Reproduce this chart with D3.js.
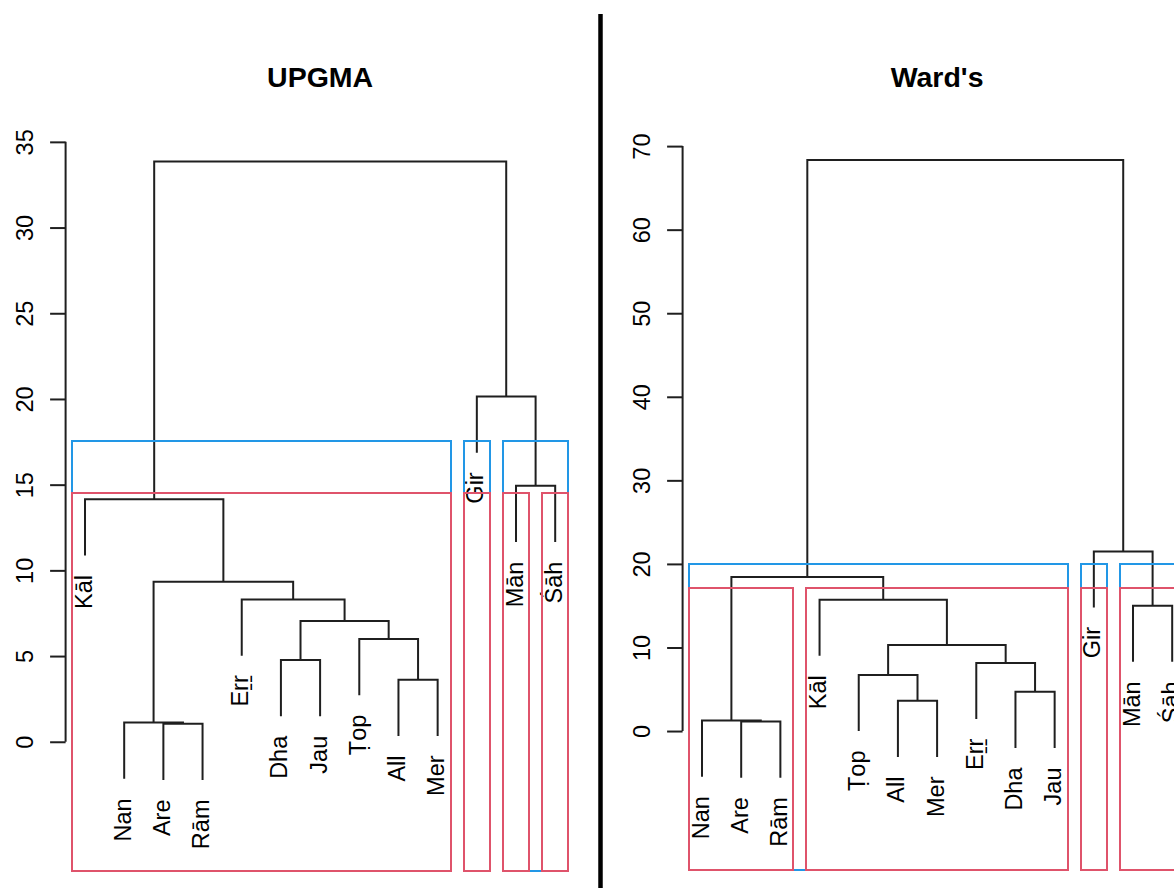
<!DOCTYPE html>
<html>
<head>
<meta charset="utf-8">
<script src="https://cdn.jsdelivr.net/npm/d3@7"></script>
<style>
  body { margin: 0; background: #fff; }
  text { font-family: "Liberation Sans", Arial, sans-serif; }
</style>
</head>
<body>
<svg id="chart" width="1174" height="888"></svg>
<script>
// merges in R order: a name is a leaf, a number points to an earlier merge (1-based)
const upgmaLeft    = ["Are", "Nan", "All", "Dha", "Ṭop", 4, "Eṟṟ", 2, "Kāl", "Mān", "Gir", 9];
const upgmaRight   = ["Rām", 1, "Mer", "Jau", 3, 5, 6, 7, 8, "Śāh", 10, 11];
const upgmaHeights = [1.05, 1.12, 3.62, 4.77, 6.0, 7.05, 8.3, 9.34, 14.15, 14.93, 20.14, 33.86];

const wardLeft    = ["Are", "Nan", "All", "Dha", "Ṭop", "Eṟṟ", 5, "Mān", "Kāl", 2, "Gir", 10];
const wardRight   = ["Rām", 1, "Mer", "Jau", 3, 4, 6, "Śāh", 7, 9, 8, 11];
const wardHeights = [1.14, 1.26, 3.61, 4.69, 6.72, 8.15, 10.31, 15.0, 15.72, 18.44, 21.5, 68.33];

const upgmaTicks = [0, 5, 10, 15, 20, 25, 30, 35];
const wardTicks  = [0, 10, 20, 30, 40, 50, 60, 70];

// rect.hclust cuts, drawn in this order
const cutK = [3, 4];
const cutColors = ["#2297E6", "#DF536B"];

const svg = d3.select("#chart");
const panelW = 617;

function buildTree(left, right, heights) {
	var nodes = heights.map(function(h, i) { return {h: h}; });
	function kid(c) { return typeof c === "number" ? nodes[c - 1] : {leaf: c, h: 0}; }
	nodes.forEach(function(n, i) { n.kids = [kid(left[i]), kid(right[i])]; });
	var root = nodes[nodes.length - 1];
	var pos = 0;
	(function walk(n) {
		if (n.leaf) { n.pos = ++pos; return; }
		walk(n.kids[0]); walk(n.kids[1]);
		n.pos = (n.kids[0].pos + n.kids[1].pos) / 2;
	})(root);
	return {nodes: nodes, root: root, n: pos};
}

function leafRange(n) {
	if (n.leaf) return [n.pos, n.pos];
	var a = leafRange(n.kids[0]), b = leafRange(n.kids[1]);
	return [Math.min(a[0], b[0]), Math.max(a[1], b[1])];
}

function drawPanel(offset, title, left, right, heights, ticks, yDomain, yRange) {
	var tree = buildTree(left, right, heights);
	var g = svg.append("g").attr("transform", "translate(" + offset + ",0)");

	var x = d3.scaleLinear().domain([1 - 0.48, tree.n + 0.48]).range([66.2, 574]);
	var y = d3.scaleLinear().domain(yDomain).range(yRange);
	var hang = 0.1 * (d3.max(heights) - d3.min(heights));

	// title
	g.append("text")
		.attr("x", (x.range()[0] + x.range()[1]) / 2)
		.attr("y", 86.7)
		.attr("text-anchor", "middle")
		.attr("font-weight", "bold")
		.attr("font-size", "28.5px")
		.text(title);

	// axis
	var axis = g.append("g")
		.attr("transform", "translate(" + (x.range()[0] - 0.6) + ",0)")
		.call(d3.axisLeft(y).tickValues(ticks).tickSize(15.5).tickSizeOuter(0));
	axis.select(".domain").remove();
	axis.append("line")
		.attr("y1", y(ticks[0])).attr("y2", y(ticks[ticks.length - 1]))
		.attr("stroke", "#1f1f1f").attr("stroke-width", 2);
	axis.selectAll(".tick line").attr("stroke", "#1f1f1f").attr("stroke-width", 2);
	axis.selectAll(".tick text")
		.attr("transform", "rotate(-90)")
		.attr("x", 0).attr("y", -33).attr("dy", 0)
		.attr("text-anchor", "middle")
		.attr("fill", "#000")
		.attr("font-family", "Liberation Sans, Arial, sans-serif")
		.attr("font-size", "23.5px");

	// dendrogram
	function top(c, parentH) { return c.leaf ? parentH - hang : c.h; }
	g.append("g").selectAll("path")
		.data(tree.nodes)
		.enter()
		.append("path")
		.attr("d", function(d) {
			var a = d.kids[0], b = d.kids[1];
			return "M" + x(a.pos) + "," + y(top(a, d.h)) +
				"V" + y(d.h) + "H" + x(b.pos) + "V" + y(top(b, d.h));
		})
		.attr("fill", "none")
		.attr("stroke", "#1f1f1f")
		.attr("stroke-width", 2);

	// leaf labels
	var leaves = [];
	tree.nodes.forEach(function(d) {
		d.kids.forEach(function(c) { if (c.leaf) leaves.push({name: c.leaf, pos: c.pos, end: d.h - hang}); });
	});
	g.append("g").selectAll("text")
		.data(leaves)
		.enter()
		.append("text")
		.attr("transform", function(d) {
			return "translate(" + x(d.pos) + "," + (y(d.end) + 19.5) + ") rotate(-90)";
		})
		.attr("y", 6.5)
		.attr("text-anchor", "end")
		.attr("font-size", "23.5px")
		.text(function(d) { return d.name; });

	// cluster rectangles (edges snapped to whole pixels so red sits cleanly on blue)
	var desc = heights.slice().sort(function(a, b) { return b - a; });
	cutK.forEach(function(k, ci) {
		var cutH = (desc[k - 2] + desc[k - 1]) / 2;
		var clusters = [];
		(function split(n) {
			if (!n.leaf && n.h > cutH) { split(n.kids[0]); split(n.kids[1]); }
			else clusters.push(leafRange(n));
		})(tree.root);
		var yTop = Math.round(y(cutH));
		g.append("g").selectAll("rect")
			.data(clusters)
			.enter()
			.append("rect")
			.attr("x", function(d) { return Math.round(x(d[0] - 0.34)); })
			.attr("width", function(d) { return Math.round(x(d[1] + 0.33)) - Math.round(x(d[0] - 0.34)); })
			.attr("y", yTop)
			.attr("height", yRange[0] - yTop)
			.attr("fill", "none")
			.attr("stroke", cutColors[ci])
			.attr("stroke-width", 2);
	});
}

drawPanel(0, "UPGMA", upgmaLeft, upgmaRight, upgmaHeights, upgmaTicks, [-7.54, 35.05], [871, 141]);
drawPanel(panelW, "Ward's", wardLeft, wardRight, wardHeights, wardTicks, [-16.63, 70.61], [870, 141]);

// divider between the two plots
svg.append("line")
	.attr("x1", 600.5).attr("x2", 600.5)
	.attr("y1", 14).attr("y2", 888)
	.attr("stroke", "#000")
	.attr("stroke-width", 4.5);
</script>
</body>
</html>
